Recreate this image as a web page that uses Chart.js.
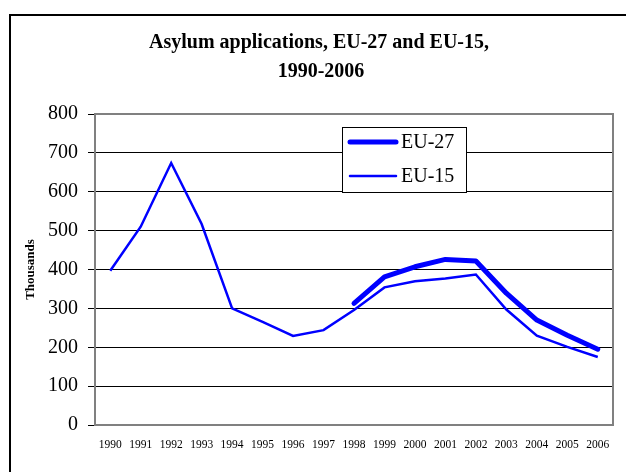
<!DOCTYPE html>
<html>
<head>
<meta charset="utf-8">
<script src="https://cdn.jsdelivr.net/npm/chart.js@4.4.0/dist/chart.umd.min.js"></script>
<style>
  body { margin: 0; background: #fff; }
  #wrap { width: 626px; height: 472px; position: relative; }
</style>
</head>
<body>
<div id="wrap"><canvas id="asylumChart"></canvas></div>
<script>
const years = ['1990', '1991', '1992', '1993', '1994', '1995', '1996', '1997', '1998',
    '1999', '2000', '2001', '2002', '2003', '2004', '2005', '2006'];
const eu27 = [null, null, null, null, null, null, null, null, 313,
    381, 407, 426, 422, 339, 270, 231, 195];
const eu15 = [397, 510, 674, 517, 300, 265, 229, 244, 296,
    354, 370, 377, 387, 297, 230, 201, 175];
const yTicks = [0, 100, 200, 300, 400, 500, 600, 700, 800];
const titleLines = ['Asylum applications, EU-27 and EU-15,', '1990-2006'];

const SERIF = '"Liberation Serif", "Times New Roman", serif';

// frame, title, plot border and the boxed legend
const decorations = {
    id: 'decorations',
    beforeDraw(chart) {
        const c = chart.ctx;
        c.save();
        c.fillStyle = '#fff';
        c.fillRect(0, 0, chart.width, chart.height);
        c.strokeStyle = '#000';
        c.lineWidth = 2;
        c.strokeRect(10, 15, 1000, 1000);
        c.fillStyle = '#000';
        c.font = 'bold 20px ' + SERIF;
        c.textAlign = 'center';
        c.textBaseline = 'alphabetic';
        c.fillText(titleLines[0], 319, 48);
        c.fillText(titleLines[1], 321, 77);
        c.restore();
    },
    beforeDatasetsDraw(chart) {
        const a = chart.chartArea;
        const c = chart.ctx;
        c.save();
        c.strokeStyle = '#808080';
        c.lineWidth = 2;
        c.strokeRect(a.left, a.top, a.right - a.left, a.bottom - a.top);
        c.restore();
    },
    afterDraw(chart) {
        const c = chart.ctx;
        c.save();
        c.fillStyle = '#fff';
        c.fillRect(342.5, 127.5, 124, 65);
        c.strokeStyle = '#000';
        c.lineWidth = 1;
        c.strokeRect(342.5, 127.5, 124, 65);
        c.font = '20px ' + SERIF;
        c.textAlign = 'left';
        c.textBaseline = 'middle';
        chart.data.datasets.forEach((ds, i) => {
            const y = 142 + i * 34;
            c.strokeStyle = ds.borderColor;
            c.lineWidth = ds.borderWidth;
            c.lineCap = 'round';
            c.beginPath();
            c.moveTo(350, y);
            c.lineTo(396, y);
            c.stroke();
            c.fillStyle = '#000';
            c.fillText(ds.label, 401, y + 1);
        });
        c.restore();
    }
};

new Chart(document.getElementById('asylumChart'), {
    type: 'line',
    data: {
        labels: years,
        datasets: [{
            label: 'EU-27',
            data: eu27,
            borderColor: '#0000FF',
            borderWidth: 5,
            borderCapStyle: 'round',
            borderJoinStyle: 'round',
            pointRadius: 0,
            tension: 0
        }, {
            label: 'EU-15',
            data: eu15,
            borderColor: '#0000FF',
            borderWidth: 2.5,
            pointRadius: 0,
            tension: 0
        }]
    },
    options: {
        responsive: true,
        maintainAspectRatio: false,
        animation: false,
        layout: { padding: { top: 114, right: 13, bottom: 0, left: 0 } },
        plugins: {
            legend: { display: false },
            title: { display: false },
            tooltip: { enabled: false }
        },
        scales: {
            y: {
                min: 0,
                max: 800,
                afterFit: (s) => { s.width = 95; },
                afterBuildTicks: (s) => { s.ticks = yTicks.map(v => ({ value: v })); },
                ticks: {
                    font: { family: SERIF, size: 20 },
                    color: '#000',
                    padding: 10
                },
                grid: { color: '#000', lineWidth: 1, tickLength: 7, tickColor: '#000' },
                border: { display: false },
                title: {
                    display: true,
                    text: 'Thousands',
                    font: { family: SERIF, size: 13, weight: 'bold' },
                    color: '#000',
                    padding: { top: 23, bottom: 0 }
                }
            },
            x: {
                offset: true,
                afterFit: (s) => { s.height = 47; },
                ticks: {
                    font: { family: SERIF, size: 11.5 },
                    color: '#000',
                    padding: 5,
                    maxRotation: 0,
                    autoSkip: false
                },
                grid: { display: false },
                border: { display: false }
            }
        }
    },
    plugins: [decorations]
});
</script>
</body>
</html>
